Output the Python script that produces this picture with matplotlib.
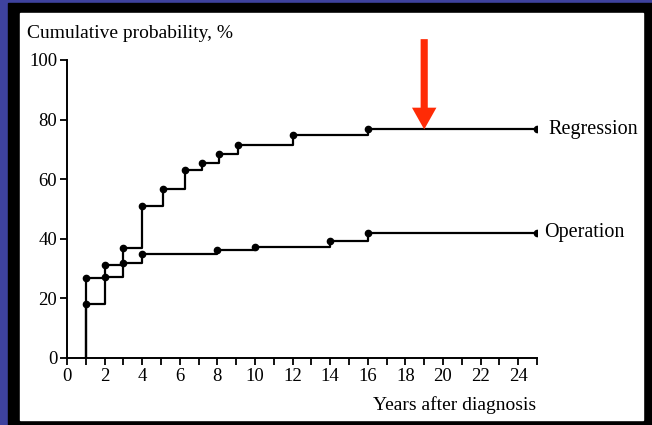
import numpy as np
import matplotlib
matplotlib.use("Agg")
import matplotlib.pyplot as plt
from matplotlib.patches import Rectangle

# data
regression_years = [1, 2, 3, 4, 5.1, 6.3, 7.2, 8.1, 9.1, 12, 16, 25]
regression_pct = [27, 31.2, 36.9, 51, 56.8, 63, 65.3, 68.5, 71.5, 75, 76.7, 76.7]
operation_years = [1, 2, 3, 4, 8, 10, 14, 16, 25]
operation_pct = [18, 27.1, 31.9, 34.9, 36.4, 37.3, 39.4, 42, 42]
arrow_year = 19

BLUE = "#3e429e"
RED = "#ff2b06"
FONT = "Liberation Serif"

plt.rcParams['font.family'] = [FONT, 'DejaVu Serif']

W, H = 652, 425
fig = plt.figure(figsize=(W / 100, H / 100), dpi=100)
fig.patch.set_facecolor(BLUE)

# black frame + white panel (pixel coords converted to figure fraction)
def px_rect(x0, y0, x1, y1, color):
    fig.patches.append(Rectangle((x0 / W, 1 - y1 / H), (x1 - x0) / W, (y1 - y0) / H,
                                 transform=fig.transFigure, color=color, zorder=-10))

px_rect(8, 3, 652, 425, "black")
px_rect(20, 13, 643, 420, "white")

# axes: year 0 at x=67, year 25 at x=537; 0% at y=358, 100% at y=60
ax = fig.add_axes([67 / W, (H - 358) / H, 470 / W, 298 / H])
ax.set_facecolor("none")
ax.set_xlim(0, 25)
ax.set_ylim(0, 100)

for side in ("top", "right"):
    ax.spines[side].set_visible(False)
for side in ("left", "bottom"):
    ax.spines[side].set_linewidth(1.4)

ax.set_xticks(np.arange(0, 26, 1))
ax.set_xticklabels([str(v) if v % 2 == 0 and v < 25 else "" for v in range(26)])
ax.set_yticks(np.arange(0, 101, 20))
ax.tick_params(axis="both", direction="out", length=5, width=1.3, labelsize=13.5, pad=2)

def km_curve(years, pct):
    xs = [years[0]] + list(years)
    ys = [0] + list(pct)
    ax.plot(xs, ys, drawstyle="steps-post", color="black", lw=1.6, zorder=3)
    ax.plot(years, pct, "o", color="black", ms=4.5, zorder=4)

km_curve(regression_years, regression_pct)
km_curve(operation_years, operation_pct)

ax.annotate("Regression", xy=(regression_years[-1], regression_pct[-1]), xytext=(8, 0),
            textcoords="offset points", va="center", ha="left", fontsize=14.5)
ax.annotate("Operation", xy=(operation_years[-1], operation_pct[-1]), xytext=(5, 0),
            textcoords="offset points", va="center", ha="left", fontsize=14.5)

# red arrow pointing at the regression plateau
ax.arrow(arrow_year, 107, 0, -(107 - regression_pct[-1]), width=0.38, head_width=1.3,
         head_length=7.3, length_includes_head=True, color=RED, lw=0, clip_on=False, zorder=5)

fig.text(27 / W, 1 - 33 / H, "Cumulative probability, %", fontsize=14, ha="left", va="center")
fig.text(536 / W, 1 - 405 / H, "Years after diagnosis", fontsize=14, ha="right", va="center")

fig.savefig("out.png", dpi=100, facecolor=fig.get_facecolor())
